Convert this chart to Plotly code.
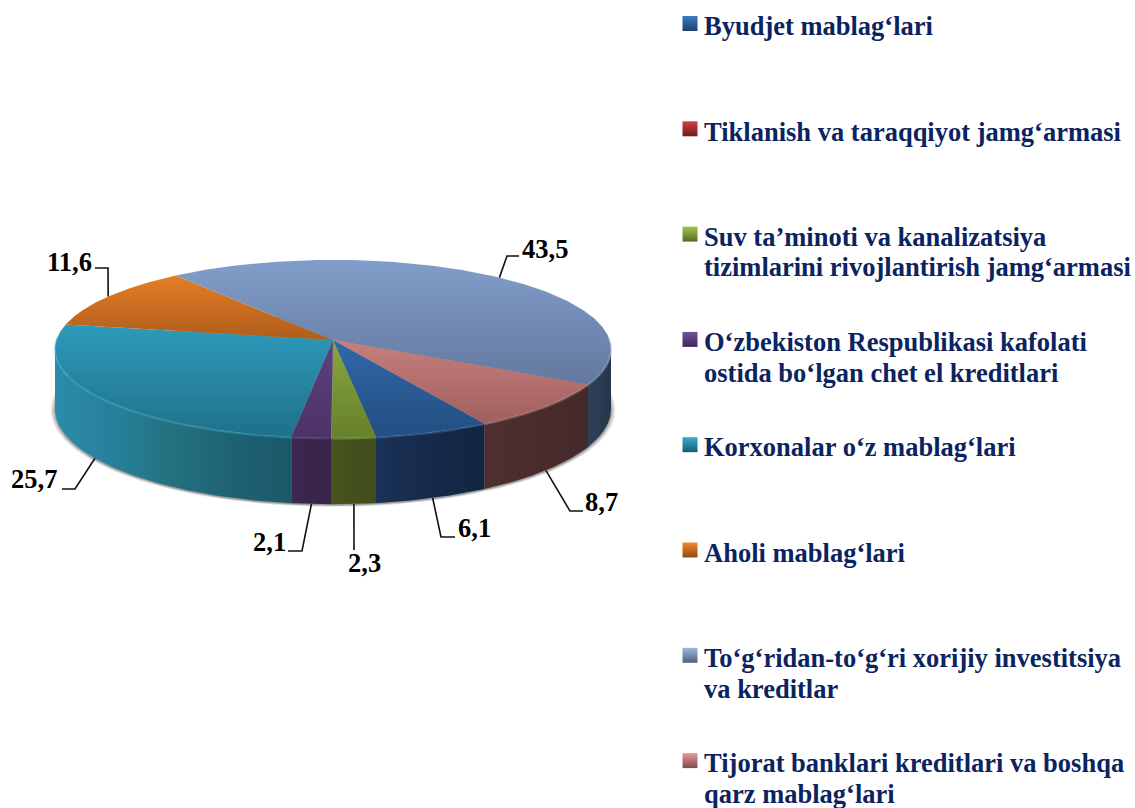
import numpy as np
import plotly.graph_objects as go

# ---------- data ----------
categories = [
    "Byudjet mablag‘lari",
    "Tiklanish va taraqqiyot jamg‘armasi",
    "Suv ta’minoti va kanalizatsiya<br>tizimlarini rivojlantirish jamg‘armasi",
    "O‘zbekiston Respublikasi kafolati<br>ostida bo‘lgan chet el kreditlari",
    "Korxonalar o‘z mablag‘lari",
    "Aholi mablag‘lari",
    "To‘g‘ridan-to‘g‘ri xorijiy investitsiya<br>va kreditlar",
    "Tijorat banklari kreditlari va boshqa<br>qarz mablag‘lari",
]
values = [6.1, 0.0, 2.3, 2.1, 25.7, 11.6, 43.5, 8.7]
value_labels = ["6,1", "", "2,3", "2,1", "25,7", "11,6", "43,5", "8,7"]

# ---------- styles ----------
top_colors = [
    ("#2f69aa", "#234e80"), ("#b03532", "#80282a"), ("#88a83b", "#66802c"),
    ("#604080", "#4c3366"), ("#2c9bba", "#207089"), ("#e57d24", "#ae5e1c"),
    ("#819eca", "#64789e"), ("#c67f7d", "#a05f5e"),
]
side_colors = [
    ["#1b3156", "#152a4a", "#12263f"], ["#5a1a1a", "#4a1515", "#3a1010"],
    ["#465420", "#43501c", "#414c1a"], ["#3c274f", "#3a264c", "#38244a"],
    ["#2a8cab", "#27809b", "#23717f", "#1e6274", "#1b5868"],
    ["#8a4a14", "#7a4212", "#6a3a10"],
    ["#2f3f57", "#2b3b52", "#27354a"], ["#502f30", "#4b2c2d", "#452a2b"],
]
rim_colors = ["#4d86c8", "#d05050", "#a3c84f", "#7a55a0", "#3fb6d8", "#f09a40", "#a0bade", "#dda09e"]
swatch_colors = [
    ("#3d7cc4", "#1f3f6c"), ("#d4403c", "#6e1c1c"), ("#a3c64a", "#56692a"), ("#74509c", "#3e2858"),
    ("#35aecf", "#1a5a70"), ("#f58a2c", "#8c4a14"), ("#9cb8e0", "#4f6080"), ("#e89a98", "#804c4c"),
]
legend_color = "#0b2460"
serif = "Liberation Serif"

# geometry constants of the projected disc (pixels on the page-sized axes)
CX, CY, R, K, P, DEPTH = 333.0, 340.0, 276.6, 88.2, 0.101, 59.5
START_DEG = 150.0
FIRST_Y, STEP_Y, SWATCH_X, TEXT_X, LINE_H = 23.5, 105.3, 690, 702, 30.5

label_pos = {0: (474, 528), 2: (364, 563), 3: (269, 542), 4: (34, 479), 5: (69, 262), 6: (545, 249), 7: (601, 502)}
leader_knees = {
    0: [(441, 537), (455, 537)], 2: [(354, 550)], 3: [(302, 551), (288, 551)],
    4: [(75, 489), (62, 489)], 5: [(108, 268), (95, 268)],
    6: [(507, 256), (519, 256)], 7: [(570, 511), (583, 511)],
}
back_slices = {5, 6}


def project(phi_deg, depth=0.0, scale=1.0):
    phi = np.radians(phi_deg)
    u, v = np.sin(phi), np.cos(phi)
    w = 1 + P * v
    return CX + scale * R * u / w, CY - scale * K * v / w + depth / w


def scale_of(colors):
    return [[i / (len(colors) - 1), c] for i, c in enumerate(colors)]


fig = go.Figure()

# soft shadow under the disc
full = np.linspace(0, 360, 361)
for s, a in [(1.016, 0.10), (1.011, 0.14), (1.006, 0.18), (1.002, 0.25)]:
    sx, sy = project(full, DEPTH, s)
    fig.add_trace(go.Scatter(x=sx, y=sy + 1, mode="lines", fill="toself", line=dict(width=0),
                             fillcolor=f"rgba(70,70,70,{a})", hoverinfo="skip", showlegend=False))

edges = START_DEG + np.concatenate([[0], np.cumsum(values)]) * 3.6

# visible side wall: between the projected left and right extremes (front half)
grid = np.linspace(0, 360, 3601)
gx, _ = project(grid)
SIDE_A, SIDE_B = grid[np.argmax(gx)], grid[np.argmin(gx)]

for i, val in enumerate(values):
    if val <= 0:
        continue
    a, b = edges[i], edges[i + 1]
    # side wall pieces falling in the visible range
    for shift in (-360, 0, 360):
        lo, hi = max(a + shift, SIDE_A), min(b + shift, SIDE_B)
        if hi <= lo:
            continue
        t = np.linspace(lo, hi, 120)
        x1, y1 = project(t)
        x2, y2 = project(t, DEPTH)
        fig.add_trace(go.Scatter(
            x=np.r_[x1, x2[::-1], x1[0]], y=np.r_[y1, y2[::-1], y1[0]], mode="lines", fill="toself",
            line=dict(width=0), hoverinfo="skip", showlegend=False,
            fillgradient=dict(type="horizontal", colorscale=scale_of(side_colors[i]))))

for i, val in enumerate(values):
    if val <= 0:
        continue
    a, b = edges[i], edges[i + 1]
    t = np.linspace(a, b, 200)
    x, y = project(t)
    fig.add_trace(go.Scatter(
        x=np.r_[CX, x, CX], y=np.r_[CY, y, CY], mode="lines", fill="toself", name=categories[i],
        line=dict(width=0), hoverinfo="skip", showlegend=False,
        fillgradient=dict(type="vertical", colorscale=[[0, top_colors[i][1]], [1, top_colors[i][0]]])))

# bevel highlight on the visible rim
for i, val in enumerate(values):
    if val <= 0:
        continue
    a, b = edges[i], edges[i + 1]
    for shift in (-360, 0, 360):
        lo, hi = max(a + shift, SIDE_A - 8), min(b + shift, SIDE_B + 8)
        if hi <= lo:
            continue
        t = np.linspace(lo, hi, 120)
        x, y = project(t, 0.5)
        fig.add_trace(go.Scatter(x=x, y=y, mode="lines", line=dict(width=2.2, color=rim_colors[i]),
                                 opacity=0.35, hoverinfo="skip", showlegend=False))

# leader lines and value labels
annotations = []
for i, val in enumerate(values):
    if val <= 0:
        continue
    mid = (edges[i] + edges[i + 1]) / 2
    sx, sy = project(mid, 0 if i in back_slices else DEPTH)
    knees = leader_knees[i]
    fig.add_trace(go.Scatter(x=[sx] + [p[0] for p in knees], y=[sy] + [p[1] for p in knees], mode="lines",
                             line=dict(width=1.6, color="#111111"), hoverinfo="skip", showlegend=False))
    lx, ly = label_pos[i]
    annotations.append(dict(x=lx, y=ly, xref="x", yref="y", text=f"<b>{value_labels[i]}</b>", showarrow=False,
                            font=dict(family=serif, size=26.5, color="#000000")))

# legend swatches and texts
for i, name in enumerate(categories):
    yc = FIRST_Y + STEP_Y * i
    fig.add_trace(go.Scatter(
        x=[SWATCH_X], y=[yc], mode="markers", hoverinfo="skip", showlegend=False,
        marker=dict(symbol="square", size=15, color=swatch_colors[i][0], line=dict(width=0),
                    gradient=dict(type="vertical", color=swatch_colors[i][1]))))
    for j, line in enumerate(name.split("<br>")):
        annotations.append(dict(x=TEXT_X, y=yc + 2.7 + j * LINE_H, xref="x", yref="y", xanchor="left", yanchor="middle",
                                align="left", text=f"<b>{line}</b>", showarrow=False,
                                font=dict(family=serif, size=26.5, color=legend_color)))

fig.update_layout(
    width=1135, height=808, margin=dict(l=0, r=0, t=0, b=0), paper_bgcolor="#ffffff", plot_bgcolor="#ffffff",
    xaxis=dict(range=[0, 1135], visible=False, fixedrange=True),
    yaxis=dict(range=[808, 0], visible=False, fixedrange=True),
    annotations=annotations, showlegend=False,
)
fig.write_html("out.html", config={"displayModeBar": False},
               post_script="document.body.style.margin='0';")
